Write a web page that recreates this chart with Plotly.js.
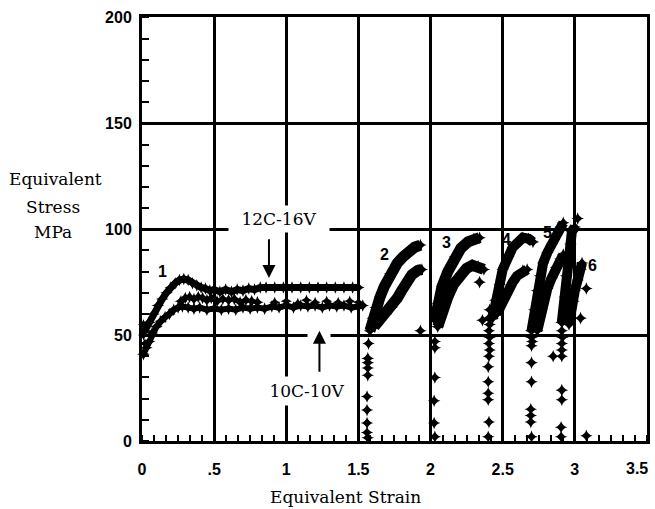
<!DOCTYPE html>
<html>
<head>
<meta charset="utf-8">
<script src="https://cdn.plot.ly/plotly-3.0.1.min.js"></script>
<style>html,body{margin:0;padding:0;background:#fff;}</style>
</head>
<body>
<div id="chart" style="width:655px;height:509px;"></div>
<script>
// ---- data (equivalent strain, equivalent stress MPa) ----
const xTickVals = [0, 0.5, 1, 1.5, 2, 2.5, 3, 3.5];
const xTickText = ['0', '.5', '1', '1.5', '2', '2.5', '3', ''];
const xLastTickText = '3.5';   // drawn just left of the right border, as in the reference
const yTickVals = [0, 50, 100, 150, 200];

// cycle 1 : 12C-16V (upper curve)
const c1UpperX = [0.02,0.05,0.08,0.11,0.14,0.17,0.20,0.23,0.26,0.29,0.32,0.35,0.38,0.41,0.44,0.47,0.50,0.54,0.58,0.62,0.66,0.70,0.74,0.78,0.82,0.86,0.92,0.98,1.04,1.10,1.16,1.22,1.28,1.34,1.40,1.46,1.50];
const c1UpperY = [52,56,60,64,67,70,72.5,74.5,76,76.5,76,74.5,73.5,72.5,72,71,71.5,70.5,71.5,70.5,71.5,71,72,71.5,72.5,72.5,72.5,72.5,72.5,72.5,72.5,72.5,72.5,72.5,72.5,72.5,72.5];
// cycle 1 : 10C-10V (lower curve)
const c1LowerX = [0.01,0.03,0.05,0.07,0.10,0.13,0.16,0.19,0.22,0.25,0.28,0.32,0.36,0.40,0.45,0.50,0.55,0.60,0.65,0.70,0.75,0.80,0.85,0.90,0.95,1.00,1.05,1.10,1.15,1.20,1.25,1.30,1.35,1.40,1.45,1.50,1.53];
const c1LowerY = [41,44,47,51,54,56.5,58.5,60,62,63,63.5,63,62.5,63,62,62.5,62,62.5,62,63,62.5,63,62.5,63.5,63,64,63,64,63.5,64,63,64,63.5,64,63,63.5,64];
const c1MidX = [0.27,0.30,0.33,0.36,0.39,0.42,0.45,0.48,0.52,0.56,0.60,0.64,0.68,0.72,0.76,0.80];
const c1MidY = [66,67.5,68,67,68,67.5,66.5,67.5,66,67,66.5,67,65.5,66.5,66,65.5];
const c1ScatterX = [0.01,0.01,0.02,0.92,1.00,1.08,1.14,1.20,1.28,1.36,1.44,1.50];
const c1ScatterY = [55,50,46,65.5,66,65,66.5,65.5,66,65.5,66,65.5];

// cycles 2..6 (upper and lower curves)
const c2UpperX = [1.58,1.60,1.62,1.65,1.68,1.72,1.77,1.81,1.85,1.89,1.93];
const c2UpperY = [52,58,63,68,73,79,84,87,89.5,91.5,92.5];
const c2LowerX = [1.61,1.65,1.69,1.73,1.77,1.80,1.83,1.87,1.91,1.94];
const c2LowerY = [54,57,60,63,67.5,71,74.5,78.5,80.5,81];
const c3UpperX = [2.03,2.05,2.08,2.12,2.17,2.21,2.26,2.30,2.34];
const c3UpperY = [57,65,73,80,87,91,94,95.5,96];
const c3LowerX = [2.05,2.08,2.12,2.16,2.21,2.25,2.29,2.33,2.37];
const c3LowerY = [54,61,68,74,79,81.5,83,82.5,81];
const c4UpperX = [2.43,2.45,2.48,2.50,2.54,2.57,2.61,2.64,2.68,2.71];
const c4UpperY = [58,66.5,74,81,87,91.5,94,96,95.5,94];
const c4LowerX = [2.46,2.50,2.53,2.57,2.60,2.64,2.67];
const c4LowerY = [60,66,71,75,78,80.5,81];
const c5UpperX = [2.70,2.72,2.74,2.76,2.78,2.81,2.84,2.87,2.90,2.92];
const c5UpperY = [52,62,71,78,84,89,93,97,101,103];
const c5LowerX = [2.74,2.76,2.78,2.81,2.84,2.87,2.90,2.92];
const c5LowerY = [52,59,66,72,77,82,86,88];
const c6UpperX = [2.91,2.93,2.94,2.95,2.97,2.98,3.00];
const c6UpperY = [56,68,78,86,93,99,101];
const c6LowerX = [2.96,2.97,2.99,3.00,3.02,3.04,3.05];
const c6LowerY = [55,60,66,71,76,81,84];

// isolated points (unloading drops and stray points)
const dropX = [1.57,1.565,1.565,1.565,1.565,1.56,1.56,1.56,1.56,1.565, 1.93,
  2.03,2.03,2.03,2.025,2.025,2.03, 2.34,2.36,
  2.41,2.405,2.41,2.405,2.41,2.405,2.41,2.405,2.40,2.40,2.40,2.40,2.405,2.40,
  2.70,2.70,2.705,2.70,2.70,2.70,2.695,2.695,2.695,2.70,
  2.91,2.91,2.915,2.91,2.91,2.91,2.91,2.91,2.905,2.905, 2.85,
  3.04,3.08,3.02,3.08];
const dropY = [46,39,37,34.5,31,21,14.6,8.5,4,1.5, 52,
  47,44,30,19,8.5,2, 75,57,
  62,58,55,52,49,46,43,40,35,28,22.5,19.5,9,2,
  52,49,47,45,37,28,15,12,9,2,
  56,52,49,46,43,40,24,19.5,6.5,2, 40,
  58,72,105,2.5];

const cycleLabels = ['1','2','3','4','5','6'];
const cycleLabelX = [0.14, 1.68, 2.11, 2.53, 2.81, 3.125];
const cycleLabelY = [80, 88, 93.5, 95, 98.5, 83];

// ---- traces ----
function band(name, x, y, w) {
  return {type:'scatter', mode:'lines+markers', name:name, x:x, y:y,
    line:{color:'black', width:w}, marker:{symbol:'star-diamond', size:9, color:'black'},
    cliponaxis:false};
}
const traces = [
  band('12C-16V', c1UpperX, c1UpperY, 7),
  band('10C-10V', c1LowerX, c1LowerY, 6),
  band('10C-10V (oscillation)', c1MidX, c1MidY, 4),
  {type:'scatter', mode:'markers', name:'cycle 1 scatter', x:c1ScatterX, y:c1ScatterY,
   marker:{symbol:'star-diamond', size:8, color:'black'}, cliponaxis:false},
  band('2 upper', c2UpperX, c2UpperY, 11), band('2 lower', c2LowerX, c2LowerY, 11),
  band('3 upper', c3UpperX, c3UpperY, 11), band('3 lower', c3LowerX, c3LowerY, 11),
  band('4 upper', c4UpperX, c4UpperY, 10), band('4 lower', c4LowerX, c4LowerY, 10),
  band('5 upper', c5UpperX, c5UpperY, 10), band('5 lower', c5LowerX, c5LowerY, 10),
  band('6 upper', c6UpperX, c6UpperY, 10), band('6 lower', c6LowerX, c6LowerY, 10),
  {type:'scatter', mode:'markers', name:'unloading', x:dropX, y:dropY,
   marker:{symbol:'star-diamond', size:9, color:'black'}, cliponaxis:false}
];

const serif = 'DejaVu Serif, serif';
const sansBold = {family:'Liberation Sans, Arial, sans-serif', size:16, color:'black', weight:'bold'};

const annotations = [];
for (let i = 0; i < cycleLabels.length; i++) {
  annotations.push({x:cycleLabelX[i], y:cycleLabelY[i], text:cycleLabels[i], showarrow:false,
    font:{family:'Liberation Sans, Arial, sans-serif', size:16, color:'black', weight:'bold'}});
}
// last x tick label, placed left of the border like the reference
annotations.push({xref:'x', yref:'paper', x:3.5, xshift:-10, y:-0.066, xanchor:'center', yanchor:'middle',
  text:xLastTickText, showarrow:false, font:sansBold});
// gap in the 50 gridline around the arrow tip
annotations.push({x:1.23, y:50, text:' ', showarrow:false, bgcolor:'white', width:22, height:5, borderpad:0});
// curve labels with arrows
annotations.push({x:0.95, y:104.7, text:'12C-16V', showarrow:false, bgcolor:'white', width:100, height:26, borderpad:0,
  font:{family:serif, size:17, color:'black'}});
annotations.push({x:0.88, y:77, ax:0.88, ay:96, axref:'x', ayref:'y', text:'', showarrow:true,
  arrowhead:2, arrowsize:1.3, arrowwidth:2, arrowcolor:'black'});
annotations.push({x:1.143, y:23.5, text:'10C-10V', showarrow:false, bgcolor:'white', width:76, height:28, borderpad:0,
  font:{family:serif, size:17, color:'black'}});
annotations.push({x:1.23, y:52, ax:1.23, ay:32, axref:'x', ayref:'y', text:'', showarrow:true,
  arrowhead:2, arrowsize:1.3, arrowwidth:2, arrowcolor:'black'});
// axis titles
const titleFont = {family:serif, size:17, color:'black'};
annotations.push({xref:'paper', yref:'paper', x:0.402, y:-0.132, xanchor:'center', yanchor:'middle',
  text:'Equivalent Strain', showarrow:false, font:titleFont});
annotations.push({xref:'paper', yref:'paper', x:-0.172, y:0.618, xanchor:'center', yanchor:'middle',
  text:'Equivalent', showarrow:false, font:titleFont});
annotations.push({xref:'paper', yref:'paper', x:-0.176, y:0.552, xanchor:'center', yanchor:'middle',
  text:'Stress', showarrow:false, font:titleFont});
annotations.push({xref:'paper', yref:'paper', x:-0.176, y:0.493, xanchor:'center', yanchor:'middle',
  text:'MPa', showarrow:false, font:titleFont});

const layout = {
  width:655, height:509,
  margin:{l:142, r:8, t:17, b:68, pad:0},
  paper_bgcolor:'white', plot_bgcolor:'white',
  showlegend:false,
  xaxis:{range:[0,3.5005], tickvals:xTickVals, ticktext:xTickText, showgrid:true, gridcolor:'black', gridwidth:3,
    zeroline:false, showline:true, linecolor:'black', linewidth:3, mirror:true, ticks:'',
    tickfont:sansBold, ticklabelstandoff:12,
    minor:{dtick:0.5/6, ticks:'inside', ticklen:6, tickwidth:2, tickcolor:'black', showgrid:false}},
  yaxis:{range:[0,200.2], tickvals:yTickVals, showgrid:true, gridcolor:'black', gridwidth:3,
    zeroline:false, showline:true, linecolor:'black', linewidth:3, mirror:true, ticks:'',
    tickfont:sansBold, ticklabelstandoff:4,
    minor:{dtick:10, ticks:'inside', ticklen:7, tickwidth:2, tickcolor:'black', showgrid:false}},
  annotations:annotations
};

Plotly.newPlot('chart', traces, layout, {staticPlot:true, displayModeBar:false});
</script>
</body>
</html>
